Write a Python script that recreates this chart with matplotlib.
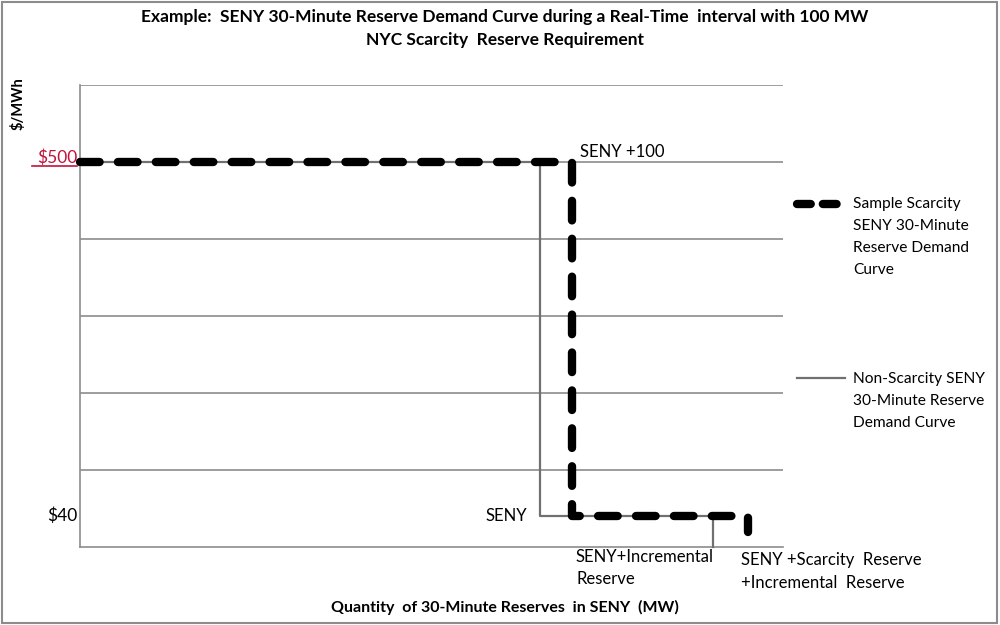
import matplotlib
matplotlib.use("Agg")
import matplotlib.pyplot as plt
from matplotlib.lines import Line2D
from matplotlib.patches import Rectangle
import matplotlib.transforms as mtransforms

# ---- data (price in $/MWh, quantity in arbitrary MW units) ----
scarcity_x = [0, 492, 492, 668, 668]
scarcity_y = [500, 500, 40, 40, 20]
nonscarcity_x = [0, 460, 460, 633, 633]
nonscarcity_y = [500, 500, 40, 40, 0]
x_max = 703
y_max = 600
grid_levels = [100, 200, 300, 400, 500, 600]
ytick_vals = [500, 40]
ytick_labels = ["$500", "$40"]
ytick_colors = ["#c0143c", "black"]

title = ("Example:  SENY 30-Minute Reserve Demand Curve during a Real-Time  interval with 100 MW\n"
         "NYC Scarcity  Reserve Requirement")
xlabel = "Quantity  of 30-Minute Reserves  in SENY  (MW)"
ylabel = "$/MWh"
legend_labels = ["Sample Scarcity\nSENY 30-Minute\nReserve Demand\nCurve",
                 "Non-Scarcity SENY\n30-Minute Reserve\nDemand Curve"]

FONT = ["Lato", "DejaVu Sans"]

fig = plt.figure(figsize=(10, 6.25), dpi=100)
ax = fig.add_axes([0.08, 1 - 547 / 625, 0.703, (547 - 85) / 625])

# gridlines
for g in grid_levels:
    ax.axhline(g, color="#8c8c8c", lw=1.2, zorder=1)

ax.plot(nonscarcity_x, nonscarcity_y, color="#707070", lw=1.6, zorder=3, clip_on=False)
ax.plot(scarcity_x, scarcity_y, color="black", lw=6.0, dashes=(2.35, 2.2),
        dash_capstyle="round", solid_capstyle="round", zorder=4, clip_on=False)

ax.set_xlim(0, x_max)
ax.set_ylim(0, y_max)
for s in ["top", "right"]:
    ax.spines[s].set_visible(False)
for s in ["left", "bottom"]:
    ax.spines[s].set_color("#8c8c8c")
    ax.spines[s].set_linewidth(1.2)
ax.set_xticks([])
ax.set_yticks([])

# y tick labels (price levels)
ytrans = mtransforms.blended_transform_factory(ax.transAxes, ax.transData)
for v, t, c in zip(ytick_vals, ytick_labels, ytick_colors):
    dy = 4 if v == 500 else 0
    off = mtransforms.ScaledTranslation(-3 / 100, dy / 100, fig.dpi_scale_trans)
    ax.text(0, v, t, transform=ytrans + off, ha="right", va="center",
            fontsize=12.5, family=FONT, color=c)
# underline under $500
fig.add_artist(Line2D([32 / 1000, 77 / 1000], [1 - 166 / 625, 1 - 166 / 625],
                      color="#c0143c", lw=1.2))

# annotations
ax.text(500, 500 + 2, "SENY +100", fontsize=12, family=FONT, ha="left", va="bottom")
ax.text(447, 40, "SENY", fontsize=12, family=FONT, ha="right", va="center")
ax.text(496, -2, "SENY+Incremental\nReserve", fontsize=12, family=FONT,
        ha="left", va="top", linespacing=1.5)
ax.text(661, -7, "SENY +Scarcity  Reserve\n+Incremental  Reserve", fontsize=12,
        family=FONT, ha="left", va="top", linespacing=1.5)

# title & labels
fig.text(0.505, 1 - 9 / 625, title, ha="center", va="top", fontsize=12.5,
         fontweight="bold", family=FONT, linespacing=1.55)
fig.text(0.505, 1 - 607 / 625, xlabel, ha="center", va="center", fontsize=11.5,
         fontweight="bold", family=FONT)
fig.text(0.018, 1 - 104 / 625, ylabel, ha="center", va="center", fontsize=10.5,
         fontweight="bold", family=FONT, rotation=90)

# legend
fig.add_artist(Line2D([797 / 1000, 840 / 1000], [1 - 204 / 625] * 2, color="black",
                      lw=6.0, dashes=(1.65, 1.45), dash_capstyle="round"))
fig.text(853 / 1000, 1 - 197 / 625, legend_labels[0], fontsize=11.2, family=FONT,
         ha="left", va="top", linespacing=1.72)
fig.add_artist(Line2D([797 / 1000, 845 / 1000], [1 - 378 / 625] * 2, color="#707070",
                      lw=1.6))
fig.text(853 / 1000, 1 - 372 / 625, legend_labels[1], fontsize=11.2, family=FONT,
         ha="left", va="top", linespacing=1.72)

# outer border
fig.add_artist(Rectangle((0.002, 0.003), 0.995, 0.994, transform=fig.transFigure,
                         fill=False, edgecolor="#8c8c8c", lw=1.5))

fig.savefig("out.png", dpi=100)
